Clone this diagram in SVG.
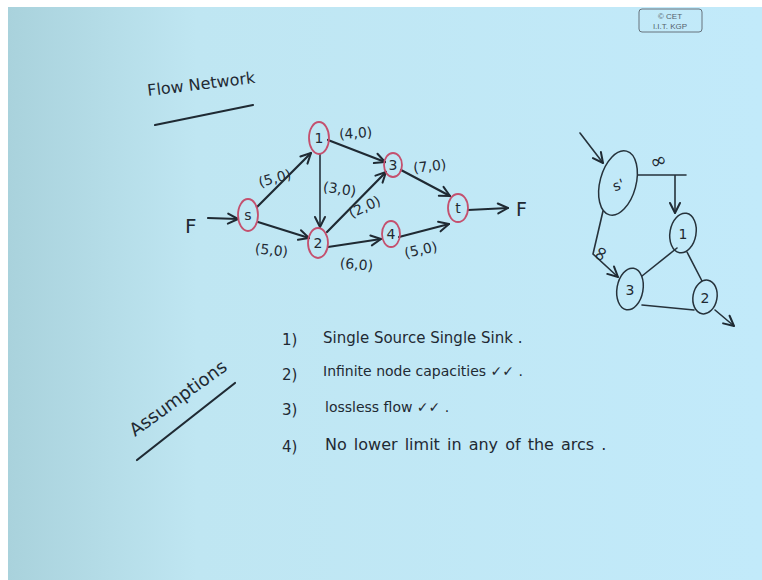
<svg xmlns="http://www.w3.org/2000/svg" width="762" height="580" viewBox="0 0 762 580">
<defs>
<linearGradient id="bg" x1="0" y1="0" x2="1" y2="0">
<stop offset="0" stop-color="#a9d2dc"/>
<stop offset="0.25" stop-color="#bfe6f2"/>
<stop offset="1" stop-color="#c2eafa"/>
</linearGradient>
<marker id="ah" markerUnits="userSpaceOnUse" markerWidth="14" markerHeight="14" viewBox="0 0 14 14" refX="12" refY="7" orient="auto">
<path d="M2,2 L12,7 L2,12" fill="none" stroke="#1f2a33" stroke-width="2" stroke-linecap="round" stroke-linejoin="round"/>
</marker>
</defs>
<style>
.ink{fill:none;stroke:#1f2a33;stroke-width:2.2;stroke-linecap:round;stroke-linejoin:round}
.thin{fill:none;stroke:#26323b;stroke-width:1.6;stroke-linecap:round}
.node{fill:none;stroke:#c4506e;stroke-width:1.8}
.node2{fill:none;stroke:#26323b;stroke-width:1.5}
.t{font-family:"DejaVu Sans","Liberation Sans",sans-serif;fill:#1f2a33}
.lbl{font-size:14px}
.nl{font-size:14px;text-anchor:middle}
</style>
<rect width="762" height="580" fill="#ffffff"/>
<rect x="8" y="7" width="754" height="573" fill="url(#bg)"/>

<g id="copyright">
<rect x="639" y="9" width="63" height="23" rx="3" fill="none" stroke="#66737d" stroke-width="1"/>
<text x="670" y="18.5" font-family="Liberation Sans, sans-serif" font-size="8" fill="#55626c" text-anchor="middle">© CET</text>
<text x="670" y="28.5" font-family="Liberation Sans, sans-serif" font-size="8" fill="#55626c" text-anchor="middle">I.I.T. KGP</text>
</g>

<g id="title">
<text class="t" x="148" y="96" font-size="16" transform="rotate(-7 148 96)">Flow Network</text>
<path class="ink" d="M155,125 L253,105" stroke-width="2.8"/>
</g>

<g id="connectors">
<line class="ink" x1="208" y1="218" x2="238" y2="219" marker-end="url(#ah)"/>
<line class="ink" x1="257" y1="207" x2="311" y2="153" marker-end="url(#ah)"/>
<line class="ink" x1="258" y1="222" x2="309" y2="238" marker-end="url(#ah)"/>
<line class="thin" x1="320" y1="154" x2="320" y2="227" marker-end="url(#ah)"/>
<line class="ink" x1="328" y1="140" x2="385" y2="162" marker-end="url(#ah)"/>
<line class="ink" x1="327" y1="232" x2="386" y2="172" marker-end="url(#ah)"/>
<line class="ink" x1="328" y1="247" x2="381" y2="239" marker-end="url(#ah)"/>
<line class="ink" x1="401" y1="170" x2="450" y2="196" marker-end="url(#ah)"/>
<line class="ink" x1="399" y1="237" x2="449" y2="224" marker-end="url(#ah)"/>
<line class="ink" x1="468" y1="210" x2="508" y2="208" marker-end="url(#ah)"/>
<line class="thin" x1="580" y1="133" x2="603" y2="163" marker-end="url(#ah)"/>
<path class="thin" d="M638,175 H686 M675,175 V213" marker-end="url(#ah)"/>
<path class="thin" d="M603,211 L593,254 L618,277" marker-end="url(#ah)"/>
<line class="thin" x1="677" y1="248" x2="642" y2="276"/>
<line class="thin" x1="687" y1="252" x2="702" y2="281"/>
<line class="thin" x1="642" y1="305" x2="694" y2="310"/>
<line class="thin" x1="715" y1="310" x2="734" y2="326" marker-end="url(#ah)"/>
</g>

<g id="edge-labels">
<text class="t lbl" x="258" y="184" transform="rotate(-15 271 178)">(5,0)</text>
<text class="t lbl" x="339" y="138" transform="rotate(-4 355 133)">(4,0)</text>
<text class="t lbl" x="323" y="193" transform="rotate(8 333 189)">(3,0)</text>
<text class="t lbl" x="255" y="255" transform="rotate(6 272 249)">(5,0)</text>
<text class="t lbl" x="348" y="212" transform="rotate(-25 364 207)">(2,0)</text>
<text class="t lbl" x="340" y="269" transform="rotate(5 354 263)">(6,0)</text>
<text class="t lbl" x="413" y="171" transform="rotate(-6 430 165)">(7,0)</text>
<text class="t lbl" x="404" y="255" transform="rotate(-12 419 249)">(5,0)</text>
<text class="t" x="185" y="233" font-size="20">F</text>
<text class="t" x="516" y="216" font-size="19">F</text>
<text class="t" x="650" y="167" font-size="20" transform="rotate(-20 660 161)">∞</text>
<text class="t" x="590" y="258" font-size="20" transform="rotate(-65 601 251)">∞</text>
</g>

<g id="node-s"><ellipse class="node" cx="248" cy="215" rx="10" ry="16"/><text class="t nl" x="248" y="220">s</text></g>
<g id="node-1"><ellipse class="node" cx="319" cy="138" rx="10" ry="16"/><text class="t nl" x="319" y="143">1</text></g>
<g id="node-2"><ellipse class="node" cx="318" cy="243" rx="10" ry="15"/><text class="t nl" x="318" y="248">2</text></g>
<g id="node-3"><ellipse class="node" cx="393" cy="165" rx="9" ry="12"/><text class="t nl" x="393" y="170">3</text></g>
<g id="node-4"><ellipse class="node" cx="391" cy="234" rx="9" ry="13"/><text class="t nl" x="391" y="239">4</text></g>
<g id="node-t"><ellipse class="node" cx="458" cy="208" rx="10" ry="14"/><text class="t nl" x="458" y="213">t</text></g>

<g id="node-s-prime"><ellipse class="node2" cx="618" cy="183" rx="18" ry="33" transform="rotate(15 618 183)"/><text class="t nl" x="618" y="190" font-size="17" transform="rotate(-20 618 184)">s'</text></g>
<g id="node-r1"><ellipse class="node2" cx="683" cy="233" rx="13" ry="20" transform="rotate(10 683 233)"/><text class="t nl" x="683" y="239">1</text></g>
<g id="node-r3"><ellipse class="node2" cx="630" cy="289" rx="13" ry="21" transform="rotate(10 630 289)"/><text class="t nl" x="630" y="295">3</text></g>
<g id="node-r2"><ellipse class="node2" cx="705" cy="297" rx="12" ry="17" transform="rotate(10 705 297)"/><text class="t nl" x="705" y="303">2</text></g>

<g id="assumptions">
<text class="t" x="135" y="437" font-size="18" transform="rotate(-36 135 437)">Assumptions</text>
<path class="ink" d="M137,460 L235,383" stroke-width="2.8"/>
<text class="t" x="282" y="345" font-size="15">1)</text>
<text class="t" x="323" y="343" font-size="15">Single Source Single Sink .</text>
<text class="t" x="282" y="380" font-size="15">2)</text>
<text class="t" x="323" y="376" font-size="14">Infinite node capacities ✓✓ .</text>
<text class="t" x="282" y="415" font-size="15">3)</text>
<text class="t" x="325" y="412" font-size="14">lossless flow ✓✓ .</text>
<text class="t" x="282" y="452" font-size="15">4)</text>
<text class="t" x="325" y="450" font-size="16" word-spacing="2">No lower limit in any of the arcs .</text>
</g>
</svg>
